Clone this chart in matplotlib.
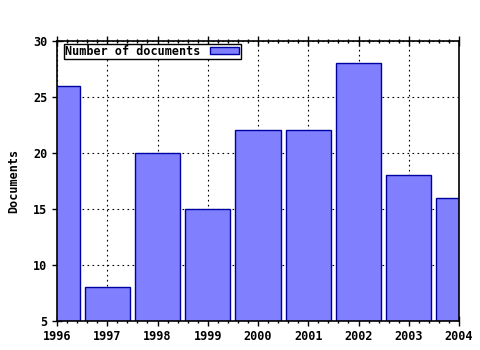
import matplotlib
matplotlib.use("Agg")
import matplotlib.pyplot as plt
from matplotlib.ticker import MultipleLocator

years = [1996, 1997, 1998, 1999, 2000, 2001, 2002, 2003, 2004]
documents = [26, 8, 20, 15, 22, 22, 28, 18, 16]
series_name = "Number of documents"
y_label = "Documents"

plt.rcParams['font.family'] = ['DejaVu Sans Mono']
plt.rcParams['font.weight'] = 'bold'
plt.rcParams['axes.labelweight'] = 'bold'
plt.rcParams['font.size'] = 8.5

fig = plt.figure(figsize=(4.8, 3.5), dpi=100)
ax = fig.add_axes([57/480, 1 - 320.5/350, (459-57)/480, (320.5-41)/350])

ax.bar(years, documents, width=0.9, color='#8080ff', edgecolor='#0000a0',
       linewidth=1, label=series_name, zorder=2)
ax.set_xlim(1996, 2004)
ax.set_ylim(5, 30)
ax.set_xticks(years)
ax.set_xticklabels([str(y) for y in years])
ax.yaxis.set_major_locator(MultipleLocator(5))
ax.xaxis.set_minor_locator(MultipleLocator(0.2))
ax.yaxis.set_minor_locator(MultipleLocator(1))
ax.grid(True, which='major', color='black', linestyle=(0, (1.5, 3)), linewidth=0.8, zorder=1)
ax.set_axisbelow(True)
ax.tick_params(which='major', direction='inout', length=7, width=1, top=True, right=False)
ax.tick_params(which='minor', direction='inout', length=3, width=1, top=True, right=False)
ax.tick_params(axis='y', which='minor', left=False)
for s in ax.spines.values():
    s.set_linewidth(1.2)
ax.set_ylabel(y_label, labelpad=9, fontweight='bold')

leg = ax.legend(loc='upper left', bbox_to_anchor=(0.017, 0.99), ncol=1,
                frameon=True, fancybox=False, borderpad=0.1, handlelength=2.5,
                handleheight=0.5, markerfirst=False, borderaxespad=0)
leg.get_frame().set_edgecolor('black')
leg.get_frame().set_linewidth(1)
leg.get_frame().set_alpha(1)

fig.savefig("out.png", dpi=100)
